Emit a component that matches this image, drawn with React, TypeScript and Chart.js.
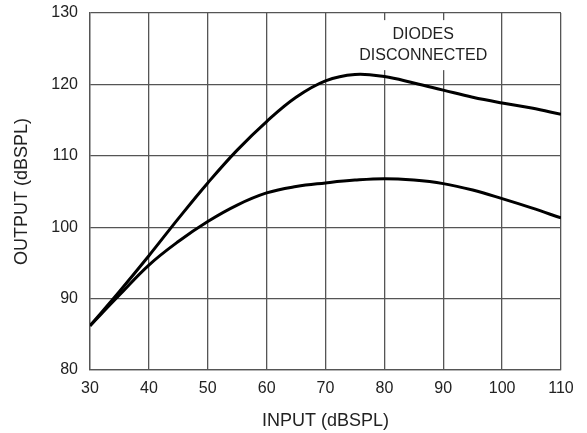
import React, { useEffect, useRef } from "react";
import { Chart, registerables } from "chart.js";

Chart.register(...registerables);

const inputLevels = [30, 35, 40, 45, 50, 55, 60, 65, 70, 75, 80, 85, 90, 95, 100, 105, 110];
const disconnectedOutput = [86.2, 91.0, 96.0, 101.2, 106.2, 110.8, 114.8, 118.2, 120.5, 121.4, 121.1, 120.2, 119.2, 118.2, 117.4, 116.7, 115.8];
const connectedOutput = [86.2, 90.5, 94.7, 98.0, 100.8, 103.1, 104.8, 105.7, 106.2, 106.6, 106.8, 106.6, 106.1, 105.2, 104.0, 102.7, 101.3];
const annotationLines = ["DIODES", "DISCONNECTED"];
const annotationAt = { x: 86.6, y: 125.5 };

const FONT = "'Liberation Sans', Arial, Helvetica, sans-serif";
const TEXT = "#222";
const GRID = "#555";

const annotationPlugin = {
  id: "diodeNote",
  afterDatasetsDraw(chart: any) {
    const { ctx, scales } = chart;
    const cx = scales.x.getPixelForValue(annotationAt.x);
    const cy = scales.y.getPixelForValue(annotationAt.y);
    ctx.save();
    ctx.font = `16px ${FONT}`;
    const lh = 21;
    const w = Math.max(...annotationLines.map((t) => ctx.measureText(t).width));
    ctx.fillStyle = "#fff";
    ctx.fillRect(cx - w / 2 - 2, cy - lh - 4, w + 4, lh * 2 + 8);
    ctx.fillStyle = TEXT;
    ctx.textAlign = "center";
    ctx.textBaseline = "middle";
    annotationLines.forEach((t, i) => {
      ctx.fillText(t, cx, cy - lh / 2 + i * lh);
    });
    ctx.restore();
  },
};

export default function App() {
  const ref = useRef<HTMLCanvasElement>(null);
  useEffect(() => {
    if (!ref.current) return;
    const chart = new Chart(ref.current, {
      type: "line",
      data: {
        datasets: [
          {
            label: "Diodes disconnected",
            data: inputLevels.map((x, i) => ({ x, y: disconnectedOutput[i] })),
            borderColor: "#000",
            borderWidth: 3,
            pointRadius: 0,
            tension: 0.4,
            fill: false,
          },
          {
            label: "Diodes connected",
            data: inputLevels.map((x, i) => ({ x, y: connectedOutput[i] })),
            borderColor: "#000",
            borderWidth: 3,
            pointRadius: 0,
            tension: 0.4,
            fill: false,
          },
        ],
      },
      options: {
        animation: false,
        responsive: true,
        maintainAspectRatio: false,
        layout: { padding: { left: 0, top: 13, right: 26, bottom: 0 } },
        plugins: { legend: { display: false }, tooltip: { enabled: false } },
        scales: {
          x: {
            type: "linear",
            min: 30,
            max: 110,
            ticks: { stepSize: 10, padding: 9, color: TEXT, font: { family: FONT, size: 16 } },
            grid: { color: GRID, lineWidth: 1.3, drawTicks: false },
            border: { color: GRID, width: 1.3 },
            title: {
              display: true,
              text: "INPUT (dBSPL)",
              color: TEXT,
              font: { family: FONT, size: 18 },
              padding: { top: 0, bottom: 1 },
            },
            afterFit: (s: any) => {
              s.height = 63;
              s.paddingLeft = 0;
              s.paddingRight = 0;
            },
          },
          y: {
            min: 80,
            max: 130,
            ticks: { stepSize: 10, padding: 12, color: TEXT, font: { family: FONT, size: 16 } },
            grid: { color: GRID, lineWidth: 1.3, drawTicks: false },
            border: { color: GRID, width: 1.3 },
            title: {
              display: true,
              text: "OUTPUT (dBSPL)",
              color: TEXT,
              font: { family: FONT, size: 18 },
              padding: { top: 11, bottom: 0 },
            },
            afterFit: (s: any) => {
              s.width = 90;
              s.paddingTop = 0;
              s.paddingBottom = 0;
            },
          },
        },
      },
      plugins: [annotationPlugin],
    });
    return () => chart.destroy();
  }, []);
  return (
    <div style={{ position: "fixed", left: 0, top: 0, width: 587, height: 433, background: "#fff" }}>
      <canvas ref={ref} />
    </div>
  );
}
